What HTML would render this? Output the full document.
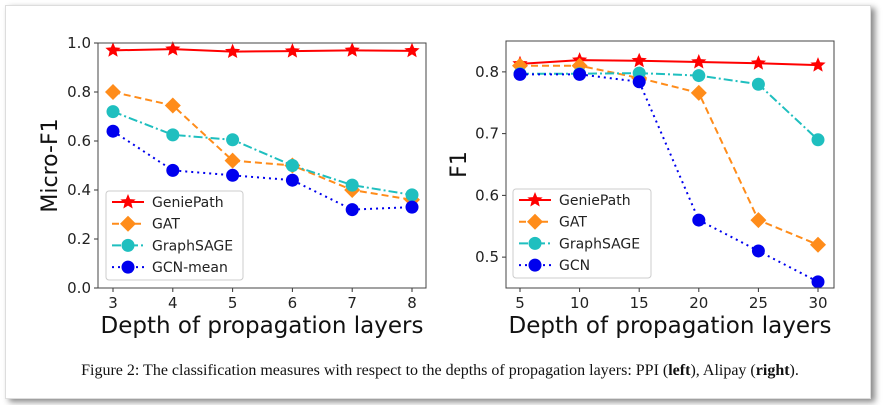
<!DOCTYPE html>
<html><head><meta charset="utf-8"><style>
body{margin:0;background:#fff;width:884px;height:405px;overflow:hidden}
#card{position:absolute;left:5px;top:5px;width:864px;height:392px;background:#fff;border:1px solid #ddd;box-shadow:4px 3px 6px #888}
svg{position:absolute;left:0;top:0}
</style></head><body>
<div id="card"></div>
<svg id="s" width="884" height="405" font-family="DejaVu Sans, Liberation Sans, sans-serif"></svg>
<script>
const leftX=[3,4,5,6,7,8];
const leftGenie=[0.97,0.975,0.965,0.967,0.97,0.968];
const leftGAT=[0.8,0.745,0.52,0.5,0.4,0.36];
const leftSAGE=[0.72,0.625,0.605,0.5,0.42,0.38];
const leftGCN=[0.64,0.48,0.46,0.44,0.32,0.33];
const leftYTicks=[0,0.2,0.4,0.6,0.8,1.0];
const rightX=[5,10,15,20,25,30];
const rightGenie=[0.813,0.819,0.818,0.816,0.814,0.811];
const rightGAT=[0.81,0.81,0.79,0.766,0.56,0.52];
const rightSAGE=[0.797,0.797,0.798,0.794,0.78,0.69];
const rightGCN=[0.796,0.796,0.784,0.56,0.51,0.46];
const rightYTicks=[0.5,0.6,0.7,0.8];
const leftNames=["GeniePath","GAT","GraphSAGE","GCN-mean"];
const rightNames=["GeniePath","GAT","GraphSAGE","GCN"];

const S=document.getElementById('s');const NS='http://www.w3.org/2000/svg';
function el(t,a,p){const e=document.createElementNS(NS,t);for(const k in a)e.setAttribute(k,a[k]);(p||S).appendChild(e);return e;}
function star(cx,cy,r){let p=[];for(let i=0;i<10;i++){const rr=i%2?r*0.45:r;const a=-Math.PI/2+i*Math.PI/5;p.push((cx+rr*Math.cos(a)).toFixed(1)+','+(cy+rr*Math.sin(a)).toFixed(1));}return p.join(' ');}
const styles=[{c:'#ff0000',d:'',m:'star'},{c:'#ff8c1a',d:'7,4',m:'diamond'},{c:'#1fbfbf',d:'9,3,2,3',m:'circle'},{c:'#0000ee',d:'2,4',m:'circle'}];
function marker(g,type,x,y,c,nm){let e;
 if(type==='star')e=el('polygon',{points:star(x,y,8),fill:c},g);
 else if(type==='diamond')e=el('polygon',{points:`${x},${y-8} ${x+8},${y} ${x},${y+8} ${x-8},${y}`,fill:c},g);
 else e=el('circle',{cx:x,cy:y,r:6.5,fill:c},g);
 
 }
function chart(o){
 const g=el('g',{});
 
 
 const sx=v=>o.px0+(v-o.xs[0])/(o.xs[o.xs.length-1]-o.xs[0])*(o.px1-o.px0);
 const sy=v=>o.B-(v-o.y0)/(o.y1-o.y0)*(o.B-o.T);
 o.ys.forEach(v=>{const y=sy(v);el('line',{x1:o.L-4,x2:o.L,y1:y,y2:y,stroke:'#333'},g);
  const t=el('text',{x:o.L-7,y:y+5,'text-anchor':'end','font-size':15,fill:'#222'},g);t.textContent=o.yfmt(v);
  });
 o.xs.forEach(v=>{const x=sx(v);el('line',{x1:x,x2:x,y1:o.B,y2:o.B+4,stroke:'#333'},g);
  const t=el('text',{x:x,y:o.B+20,'text-anchor':'middle','font-size':15,fill:'#222'},g);t.textContent=v;
  });
 o.series.forEach((vals,i)=>{const st=styles[i];
  el('polyline',{points:vals.map((v,j)=>sx(o.xs[j])+','+sy(v)).join(' '),fill:'none',stroke:st.c,'stroke-width':2,'stroke-dasharray':st.d},g);
  vals.forEach((v,j)=>marker(g,st.m,sx(o.xs[j]),sy(v),st.c,'point-'+o.names[i].toLowerCase()));});
 el('rect',{x:o.L,y:o.T,width:o.R-o.L,height:o.B-o.T,fill:'none',stroke:'#444'},g);
 const lg=el('g',{},g);
 el('rect',{x:o.lx,y:o.ly,width:o.lw,height:89,rx:3,fill:'#fff','fill-opacity':0.85,stroke:'#ccc'},lg);
 o.names.forEach((n,i)=>{const st=styles[i];const y=o.ly+11+i*21.7;
  el('line',{x1:o.lx+6,x2:o.lx+38,y1:y,y2:y,stroke:st.c,'stroke-width':2,'stroke-dasharray':st.d},lg);
  marker(lg,st.m,o.lx+22,y,st.c,'legend-marker');
  const t=el('text',{x:o.lx+46,y:y+5,'font-size':14,fill:'#222'},lg);t.textContent=n;
  });
 const xt=el('text',{x:(o.L+o.R)/2,y:333,'text-anchor':'middle','font-size':23,fill:'#111'},g);xt.textContent='Depth of propagation layers';
 
 const yt=el('text',{x:0,y:0,'text-anchor':'middle','font-size':22,fill:'#111',transform:`translate(${o.ytx},${(o.T+o.B)/2}) rotate(-90)`},g);yt.textContent=o.ylabel;
 
}
chart({name:'ppi-chart',L:98,R:426,T:43,B:288,px0:113,px1:412,xs:leftX,y0:0,y1:1.0,ys:leftYTicks,yfmt:v=>v.toFixed(1),
 series:[leftGenie,leftGAT,leftSAGE,leftGCN],names:leftNames,lx:106,ly:191,lw:137,ylabel:'Micro-F1',ytx:57});
chart({name:'alipay-chart',L:506,R:834,T:41,B:288,px0:520,px1:818,xs:rightX,y0:0.45,y1:0.85,ys:rightYTicks,yfmt:v=>v.toFixed(1),
 series:[rightGenie,rightGAT,rightSAGE,rightGCN],names:rightNames,lx:513,ly:189,lw:138,ylabel:'F1',ytx:466});
const cap=el('text',{x:440,y:375,'text-anchor':'middle','font-size':16,'font-family':'Liberation Serif, serif',fill:'#111'});

cap.innerHTML='Figure 2: The classification measures with respect to the depths of propagation layers: PPI (<tspan font-weight="bold">left</tspan>), Alipay (<tspan font-weight="bold">right</tspan>).';
</script>
</body></html>
